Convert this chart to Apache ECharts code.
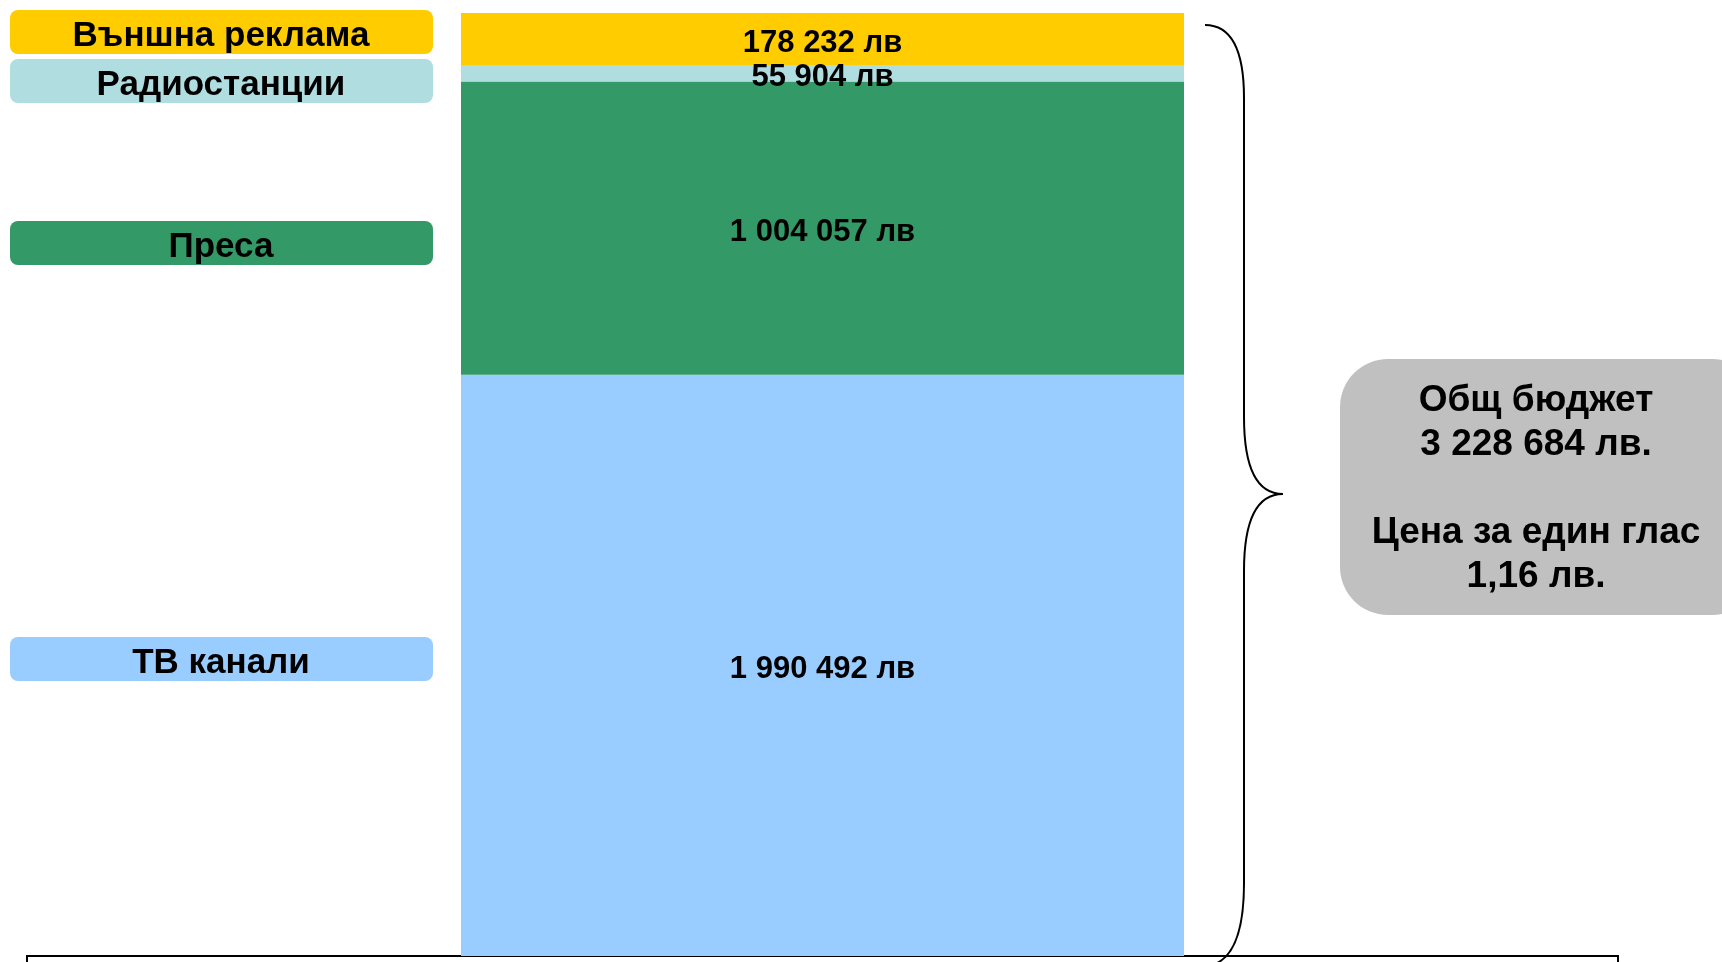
<!DOCTYPE html>
<html>
<head>
<meta charset="utf-8">
<script src="https://cdn.jsdelivr.net/npm/echarts@6/dist/echarts.min.js"></script>
<style>
  html, body { margin: 0; padding: 0; background: #fff; }
  #chart { width: 1722px; height: 962px; }
</style>
</head>
<body>
<div id="chart"></div>
<script>
// data, bottom segment first
const categories = ['Бюджет'];
const seriesNames = ['ТВ канали', 'Преса', 'Радиостанции', 'Външна реклама'];
const seriesValues = [1990492, 1004057, 55904, 178232];
const budgetLines = ['Общ бюджет', '3 228 684 лв.', '', 'Цена за един глас', '1,16 лв.'];

const colors = ['#99CCFF', '#339966', '#B0DDE0', '#FFCC00'];
const chipTops = [637, 221, 59, 10]; // left-hand label boxes

const total = seriesValues.reduce((a, b) => a + b, 0);
const font = 'Liberation Sans';

function fmt(v) {
    return String(v).replace(/\B(?=(\d{3})+(?!\d))/g, ' ') + ' лв';
}

const chart = echarts.init(document.getElementById('chart'));

const chips = [];
seriesNames.forEach((name, i) => {
    chips.push({ type: 'rect', shape: { x: 10, y: chipTops[i], width: 423, height: 44, r: 8 }, style: { fill: colors[i] } });
    chips.push({
        type: 'text', x: 221, y: chipTops[i] + 26,
        style: {
            text: name, fill: '#000', fontFamily: font, fontWeight: 'bold', fontSize: 35,
            align: 'center', verticalAlign: 'middle'
        }
    });
});

// curly brace, built from curves and straight runs
const braceStyle = { fill: null, stroke: '#000', lineWidth: 2 };
const brace = [
    { type: 'bezierCurve', shape: { x1: 1205, y1: 25, cpx1: 1232, cpy1: 25, cpx2: 1244, cpy2: 50, x2: 1244, y2: 98 }, style: braceStyle },
    { type: 'line', shape: { x1: 1244, y1: 98, x2: 1244, y2: 417 }, style: braceStyle },
    { type: 'bezierCurve', shape: { x1: 1244, y1: 417, cpx1: 1244, cpy1: 465, cpx2: 1256, cpy2: 494, x2: 1283, y2: 494 }, style: braceStyle },
    { type: 'bezierCurve', shape: { x1: 1283, y1: 494, cpx1: 1256, cpy1: 494, cpx2: 1244, cpy2: 523, x2: 1244, y2: 571 }, style: braceStyle },
    { type: 'line', shape: { x1: 1244, y1: 571, x2: 1244, y2: 883 }, style: braceStyle },
    { type: 'bezierCurve', shape: { x1: 1244, y1: 883, cpx1: 1244, cpy1: 935, cpx2: 1232, cpy2: 962, x2: 1208, y2: 966 }, style: braceStyle }
];

chart.setOption({
    animation: false,
    grid: { left: 461, right: 538, top: 13, bottom: 6 },
    xAxis: { type: 'category', data: categories, show: false },
    yAxis: { type: 'value', min: 0, max: total, show: false },
    series: seriesNames.map((name, i) => ({
        name: name,
        type: 'bar',
        stack: 'budget',
        barWidth: '100%',
        data: [seriesValues[i]],
        itemStyle: { color: colors[i] },
        label: {
            show: true,
            position: 'inside',
            offset: [0, 4],
            color: '#000',
            fontFamily: font,
            fontWeight: 'bold',
            fontSize: 31,
            formatter: p => fmt(p.value)
        }
    })),
    graphic: [
        ...chips,
        ...brace,
        {
            type: 'rect',
            shape: { x: 1340, y: 359, width: 420, height: 256, r: 48 },
            style: { fill: '#C0C0C0' }
        },
        {
            type: 'text', x: 1536, y: 489,
            style: {
                text: budgetLines.join('\n'),
                fill: '#000', fontFamily: font, fontWeight: 'bold', fontSize: 37,
                align: 'center', verticalAlign: 'middle', lineHeight: 44
            }
        },
        {
            // outline box at the bottom
            type: 'rect',
            shape: { x: 27, y: 956, width: 1591, height: 40 },
            style: { fill: null, stroke: '#000', lineWidth: 2 }
        }
    ]
});
</script>
</body>
</html>
